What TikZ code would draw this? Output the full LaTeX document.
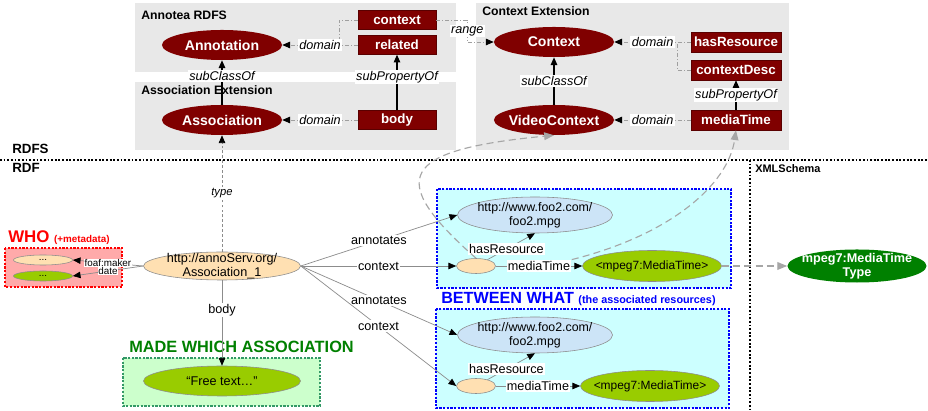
\documentclass[tikz,border=0pt]{standalone}
\usepackage{fontspec}
\setmainfont{Liberation Sans}
\usetikzlibrary{arrows.meta,positioning,shapes.geometric,calc}
\definecolor{rdfred}{HTML}{800000}
\definecolor{panelgray}{HTML}{E8E8E8}
\definecolor{edgegray}{HTML}{8C8C8C}
\definecolor{peach}{HTML}{FFE0B2}
\definecolor{skyres}{HTML}{CCE4F7}
\definecolor{litgreen}{HTML}{99CC00}
\definecolor{xsdgreen}{HTML}{008000}
\definecolor{whofill}{HTML}{FFAAAA}
\definecolor{whatfill}{HTML}{CCFFFF}
\definecolor{madefill}{HTML}{CCFFCC}
\definecolor{madeline}{HTML}{339966}
\definecolor{whatblue}{HTML}{0000FF}
\definecolor{madegreen}{HTML}{008000}
\tikzset{
cls/.style={ellipse,fill=rdfred,text=white,font=\bfseries\fontsize{10}{11}\selectfont,minimum width=3cm,minimum height=.75cm,inner xsep=-10pt,inner ysep=-2pt},
prop/.style={rectangle,fill=rdfred,draw=rdfred!70!black,line width=.3pt,text=white,font=\bfseries\fontsize{9.5}{10}\selectfont,minimum width=1.95cm,minimum height=.475cm,inner sep=0pt},
wideprop/.style={prop,minimum width=2.25cm,minimum height=.5cm},
res/.style={ellipse,draw=edgegray,line width=.4pt,fill=peach,align=center,font=\fontsize{9}{9.5}\selectfont,inner xsep=-6pt,inner ysep=-3pt},
webres/.style={res,fill=skyres,font=\fontsize{8.8}{10}\selectfont,minimum width=3.875cm,minimum height=.9cm},
lit/.style={res,fill=litgreen,font=\fontsize{8.5}{9}\selectfont},
blank/.style={res,minimum width=.975cm,minimum height=.375cm},
xsdtype/.style={ellipse,fill=xsdgreen,text=white,align=center,font=\bfseries\fontsize{9}{10}\selectfont,minimum width=3.475cm,minimum height=.825cm,inner xsep=-8pt,inner ysep=-3pt},
panel/.style={fill=panelgray},
ptitle/.style={anchor=base west,inner sep=0pt,font=\bfseries\fontsize{8.7}{9}\selectfont},
lbl/.style={fill=white,inner sep=1pt,font=\fontsize{9}{10}\selectfont},
ilbl/.style={lbl,font=\itshape\fontsize{9}{10}\selectfont},
smalllbl/.style={fill=white,inner sep=.4pt,font=\fontsize{7}{7}\selectfont},
rdfarr/.style={draw=edgegray,line width=.5pt,-{Triangle[length=5.5pt,width=4.6pt,color=black]}},
domline/.style={draw=gray!75,line width=.6pt,dash pattern=on 3pt off 1.4pt on .6pt off 1.4pt},
domarr/.style={domline,-{Triangle[length=5.5pt,width=4.6pt,color=black]}},
subarr/.style={draw=black,line width=.9pt,-{Triangle[length=5.5pt,width=4.6pt]}},
typearr/.style={draw=edgegray,line width=.5pt,dash pattern=on 2pt off 1.5pt,-{Triangle[length=5.5pt,width=4.6pt,color=black]}},
metaarr/.style={draw=gray!70,line width=.8pt,dash pattern=on 5pt off 3pt,-{Triangle[length=7pt,width=5.5pt]}},
layerline/.style={draw=black,line width=.9pt,dash pattern=on 1.3pt off 1.3pt},
groupbox/.style={line width=1pt,dash pattern=on 1.6pt off 1pt},
layertitle/.style={anchor=base west,inner sep=0pt,font=\bfseries\fontsize{9.5}{10}\selectfont}}

\begin{document}
\begin{tikzpicture}[x=0.025cm,y=-0.025cm]
\fill[white] (0,0) rectangle (928,411);
\useasboundingbox (0,0) rectangle (928,411);
\fill[panel] (135,3) rectangle (456,72);
\fill[panel] (135,82) rectangle (456,150);
\fill[panel] (476,3) rectangle (789,150);
\node[ptitle] (annoteaT) at (141,20) {Annotea RDFS};
\node[ptitle] (assocT) at (141,95) {Association Extension};
\node[ptitle] (contextT) at (482,16) {Context Extension};
\draw[layerline] (0,160) -- (928,160);
\draw[layerline] (750,160) -- (750,411);
\node[layertitle] (rdfsT) at (12,154) {RDFS};
\node[layertitle] (rdfT) at (12,173) {RDF};
\node[layertitle,font=\bfseries\fontsize{7.8}{8}\selectfont] (xsdT) at (755,173) {XMLSchema};
\filldraw[groupbox,draw=red,fill=whofill] (5,248) rectangle (122,287);
\filldraw[groupbox,draw=whatblue,fill=whatfill] (437,189) rectangle (731,288);
\filldraw[groupbox,draw=whatblue,fill=whatfill] (436,309) rectangle (729,408);
\filldraw[groupbox,draw=madeline,fill=madefill] (123,358) rectangle (320,406);
\node[anchor=base west,inner sep=0pt,text=red,font=\bfseries] (whoT) at (8,243) {\fontsize{12}{12}\selectfont WHO \fontsize{7}{7}\selectfont(+metadata)};
\node[anchor=base west,inner sep=0pt,text=whatblue,font=\bfseries] (whatT) at (441,304) {\fontsize{11.5}{12}\selectfont BETWEEN WHAT \fontsize{7.7}{8}\selectfont(the associated resources)};
\node[anchor=base west,inner sep=0pt,text=madegreen,font=\bfseries\fontsize{11.6}{12}\selectfont] (madeT) at (129,353) {MADE WHICH ASSOCIATION};
\node[cls] (annot) at (222,45) {Annotation};
\node[cls] (assoc) at (222,120) {Association};
\node[cls] (ctxcls) at (554,42) {Context};
\node[cls] (vctx) at (554,120) {VideoContext};
\node[prop] (ctxprop) at (397,20) {context};
\node[prop] (related) at (397,45) {related};
\node[prop] (bodyp) at (397,120) {body};
\node[wideprop] (hasres) at (736,42) {hasResource};
\node[wideprop] (cdesc) at (736,70) {contextDesc};
\node[wideprop] (mtime) at (736,120) {mediaTime};
\node[res,minimum width=3.925cm,minimum height=.7cm] (a1) at (222,266) {http://annoServ.org/\\Association\_1};
\node[res,font=\fontsize{7}{7}\selectfont,minimum width=1.475cm,minimum height=.25cm] (whoa) at (43,260) {...};
\node[res,fill=litgreen,font=\fontsize{7}{7}\selectfont,minimum width=1.475cm,minimum height=.25cm] (whob) at (43,276) {...};
\node[webres] (foo2a) at (535,215) {http://www.foo2.com/\\foo2.mpg};
\node[blank] (ctxa) at (476,266) {};
\node[lit,minimum width=3.475cm,minimum height=.775cm] (mpega) at (652,266) {<mpeg7:MediaTime>};
\node[webres] (foo2b) at (535,335) {http://www.foo2.com/\\foo2.mpg};
\node[blank] (ctxb) at (476,386) {};
\node[lit,minimum width=3.475cm,minimum height=.775cm] (mpegb) at (650,386) {<mpeg7:MediaTime>};
\node[xsdtype] (mtt) at (857,266) {mpeg7:MediaTime\\Type};
\node[lit,font=\fontsize{9}{10}\selectfont,minimum width=3.925cm,minimum height=.75cm] (free) at (222,381) {“Free text…”};
\draw[subarr] (assoc) -- node[ilbl,pos=.65]{subClassOf} (annot);
\draw[subarr] (bodyp) -- node[ilbl,pos=.6]{subPropertyOf} (related);
\draw[subarr] (vctx) -- node[ilbl]{subClassOf} (ctxcls);
\draw[subarr] (mtime) -- node[ilbl]{subPropertyOf} (cdesc);
\coordinate (annotjoin) at (339,45);
\coordinate (ctxjoin) at (677,42);
\draw[domline] (ctxprop.west) -| (annotjoin);
\draw[domline] (cdesc.west) -| (ctxjoin);
\draw[domarr] (related) -- node[ilbl]{domain} (annot);
\draw[domarr] (bodyp) -- node[ilbl]{domain} (assoc);
\draw[domarr] (hasres) -- node[ilbl]{domain} (ctxcls);
\draw[domarr] (mtime) -- node[ilbl]{domain} (vctx);
\draw[domarr] (ctxprop.east) -- ++(31,0) |- node[ilbl,pos=.25]{range} (ctxcls.west);
\draw[typearr] (a1) -- node[ilbl,font=\itshape\fontsize{8}{9}\selectfont]{type} (assoc);
\draw[rdfarr] (a1.west) -- node[smalllbl]{foaf:maker} (whoa.east);
\draw[rdfarr] (a1.west) -- node[smalllbl]{date} (whob.east);
\draw[rdfarr] (a1.east) -- node[lbl]{annotates} (foo2a.west);
\draw[rdfarr] (a1.east) -- node[lbl]{context} (ctxa.west);
\draw[rdfarr] (a1.east) -- node[lbl]{annotates} (foo2b.west);
\draw[rdfarr] (a1.east) -- node[lbl]{context} (ctxb.west);
\draw[rdfarr] (a1) -- node[lbl,pos=.35]{body} (free);
\draw[rdfarr] (ctxa) -- node[lbl,pos=.4]{hasResource} (foo2a.south);
\draw[rdfarr] (ctxa) -- node[lbl] (mtla) {mediaTime} (mpega);
\draw[rdfarr] (ctxb) -- node[lbl,pos=.4]{hasResource} (foo2b.south);
\draw[rdfarr] (ctxb) -- node[lbl] (mtlb) {mediaTime} (mpegb);
\draw[metaarr] (mpega) -- (mtt);
\draw[metaarr] (ctxa.north) .. controls (385,178) and (400,150) .. (vctx.south);
\draw[metaarr] (mtla.north east) .. controls (670,235) and (728,185) .. (mtime.south);
\end{tikzpicture}
\end{document}
